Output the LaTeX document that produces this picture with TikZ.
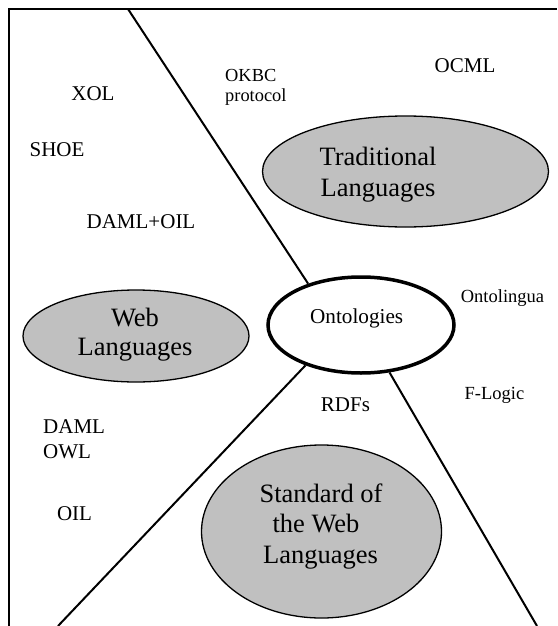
\documentclass[tikz,border=0pt]{standalone}
\usepackage{fontspec}
\setmainfont{Liberation Serif}
\usetikzlibrary{shapes.geometric}
\definecolor{langgray}{RGB}{192,192,192}
\begin{document}
\begin{tikzpicture}[x=1pt,y=-1pt,
  lbl/.style={inner sep=0pt, anchor=base, font=\fontsize{21}{24}\selectfont},
  sml/.style={inner sep=0pt, anchor=base, font=\fontsize{18.4}{21}\selectfont},
  big/.style={inner sep=0pt, anchor=base, font=\fontsize{26.5}{30}\selectfont},
  lang/.style={ellipse, draw, line width=1.3pt, fill=langgray, inner sep=0pt},
  divider/.style={line width=2pt},
]
\useasboundingbox (0,0) rectangle (557,626);
% frame (left and top only)
\coordinate (fbl) at (9,626);
\coordinate (ftl) at (9,9);
\coordinate (ftr) at (557,9);
\draw[divider] (fbl) -- (ftl) -- (ftr);

% ellipses
\node[lang, minimum width=286pt, minimum height=111pt] (trad) at (405.5,171.5) {};
\node[lang, minimum width=226pt, minimum height=92pt] (web) at (136,336) {};
\node[lang, minimum width=240pt, minimum height=173pt] (std) at (321.5,531.5) {};
\node[ellipse, draw, line width=3.5pt, fill=white, inner sep=0pt,
      minimum width=186pt, minimum height=96pt] (onto) at (361,325) {};

% dividing lines
\coordinate (l1) at (128,9);
\coordinate (l2) at (58,626);
\coordinate (l3) at (537,626);
\draw[divider] (l1) -- (onto.142.3);
\draw[divider] (onto.216.7) -- (l2);
\draw[divider] (onto.-59.4) -- (l3);

% ellipse labels
\node[lbl, font=\fontsize{21.2}{24}\selectfont] (ontot) at (356.7,323.5) {Ontologies};
\node[big] (trad1) at (378,165) {Traditional};
\node[big] (trad2) at (378,196.5) {Languages};
\node[big] (web1) at (135,326) {Web};
\node[big] (web2) at (135,355) {Languages};
\node[big] (std1) at (321,502) {Standard of};
\node[big] (std2) at (316,532.5) {the Web};
\node[big] (std3) at (320.5,563) {Languages};

% language names
\node[lbl] (xol) at (93,100) {XOL};
\node[lbl] (shoe) at (57,156) {SHOE};
\node[lbl] (dampoil) at (141,228) {DAML+OIL};
\node[sml, anchor=base west] (okbc1) at (225,81.7) {OKBC};
\node[sml, anchor=base west] (okbc2) at (225,101.7) {protocol};
\node[lbl] (ocml) at (465,72) {OCML};
\node[sml, font=\fontsize{18.5}{21}\selectfont] (ontoling) at (502.5,302) {Ontolingua};
\node[sml, font=\fontsize{18.5}{21}\selectfont] (flogic) at (494.5,399) {F-Logic};
\node[lbl] (rdfs) at (345.5,411) {RDFs};
\node[lbl, anchor=base west] (daml) at (43,433) {DAML};
\node[lbl, anchor=base west] (owl) at (43,458) {OWL};
\node[lbl] (oil) at (74.5,520) {OIL};
\end{tikzpicture}
\end{document}
